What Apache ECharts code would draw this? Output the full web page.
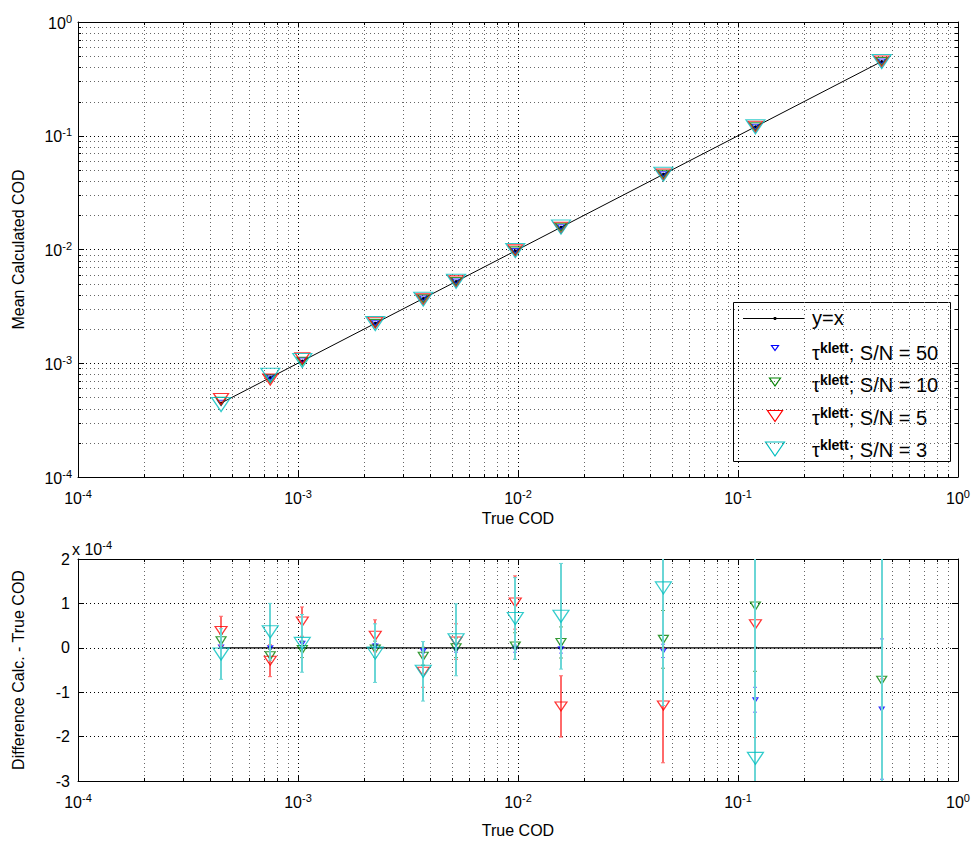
<!DOCTYPE html>
<html><head><meta charset="utf-8">
<script src="https://cdn.jsdelivr.net/npm/echarts@6/dist/echarts.min.js"></script>
<style>html,body{margin:0;padding:0;background:#fff}#c{width:974px;height:844px}</style>
</head><body><div id="c"></div>
<script>
// ---------------- data ----------------
const trueCOD = [4.47e-4, 7.48e-4, 1.046e-3, 2.245e-3, 3.71e-3, 5.23e-3, 9.72e-3, 1.568e-2, 4.58e-2, 0.120, 0.450];
const seriesLabels = ['S/N = 50', 'S/N = 10', 'S/N = 5', 'S/N = 3'];
// difference (calculated - true), in units of 1e-4
const diffSN50 = [0.02, 0.00, 0.10, 0.04, -0.07, -0.05, -0.02, -0.02, -0.07, -1.17, -1.38];
const errSN50  = [0.03, 0.03, 0.05, 0.05, 0.05, 0.05, 0.08, 0.10, 0.15, 0.28, 1.58];
const diffSN10 = [0.16, -0.18, -0.04, -0.03, -0.19, 0.00, 0.04, 0.12, 0.19, 0.94, -0.73];
const errSN10  = [0.15, 0.15, 0.18, 0.18, 0.20, 0.22, 0.30, 0.35, 0.65, 1.47, 2.80];
const diffSN5  = [0.38, -0.29, 0.59, 0.27, -0.54, 0.14, 1.02, -1.32, -1.30, 0.53, 2.80];
const errSN5   = [0.33, 0.36, 0.33, 0.36, 0.35, 0.40, 0.60, 0.69, 1.29, 2.55, 3.50];
const diffSN3  = [-0.14, 0.36, 0.10, -0.12, -0.53, 0.18, 0.66, 0.71, 1.35, -2.49, -3.60];
const errSN3   = [0.57, 0.64, 0.65, 0.66, 0.67, 0.81, 0.92, 1.19, 2.65, 5.00, 6.50];
const diffUnit = 1e-4;
const logMin = 1e-4, logMax = 1;
const diffTicks = [-3, -2, -1, 0, 1, 2];
const diffExponent = -4;

// ---------------- styling ----------------
const FONT = 'Liberation Sans, Arial, Helvetica, sans-serif';
const colors = ['#0000ff', '#008000', '#ff0000', '#00bfbf'];
const barColors = ['#6a6aff', '#5aa55a', '#ff6a6a', '#6ad6d6'];
const topSizes = [[7, 5], [11, 8], [15, 11], [19, 14]];
const botSizes = [[5, 4], [10, 8], [12, 9], [16, 12]];
const TRI = 'path://M0,0L8,0L4,6Z';
const diffs = [diffSN50, diffSN10, diffSN5, diffSN3];
const errs = [errSN50, errSN10, errSN5, errSN3];

const minorVals = [];
for (let d = -4; d < 0; d++) for (let m = 2; m <= 9; m++) minorVals.push(+(m * Math.pow(10, d)).toPrecision(3));

const rich = {
  b: {fontSize: 16, fontFamily: FONT, color: '#000', lineHeight: 18, verticalAlign: 'bottom'},
  s: {fontSize: 11, fontFamily: FONT, color: '#000', lineHeight: 4, verticalAlign: 'top'}
};
function powLabel(v) { return '{b|10}{s|' + Math.round(Math.log10(v)) + '}'; }

const majorSplit = {show: true, lineStyle: {color: '#000', type: [1, 3], width: 1}};
function logAxis(grid, pos, labels, isX) {
  return {
    type: 'log', logBase: 10, gridIndex: grid, position: pos, min: logMin, max: logMax,
    axisLine: {show: true, onZero: false, lineStyle: {color: '#000', width: 1}},
    axisTick: {show: true, inside: true, length: 6, lineStyle: {color: '#000'}},
    axisLabel: labels ? {show: true, formatter: powLabel, rich: rich, margin: isX ? 11 : 6} : {show: false},
    splitLine: labels ? majorSplit : {show: false},
    minorTick: {show: false}, minorSplitLine: {show: false}
  };
}
function diffAxis(pos, labels) {
  return {
    type: 'value', gridIndex: 1, position: pos, min: -3, max: 2, interval: 1,
    axisLine: {show: true, onZero: false, lineStyle: {color: '#000'}},
    axisTick: {show: true, inside: true, length: 6, lineStyle: {color: '#000'}},
    axisLabel: labels ? {show: true, fontSize: 16, fontFamily: FONT, color: '#000', margin: 8,
      formatter: v => diffTicks.includes(v) ? String(v) : ''} : {show: false},
    splitLine: labels ? majorSplit : {show: false}
  };
}

// minor grid + minor ticks through the axis scales
function minorSeries(xi, yi, dim) {
  return {
    type: 'custom', xAxisIndex: xi, yAxisIndex: yi, silent: true, z: 1, clip: false,
    data: dim === 0 ? minorVals.map(v => [v, 0]) : minorVals.map(v => [0.01, v]),
    renderItem(params, api) {
      const cs = params.coordSys;
      const p = api.coord([api.value(0), api.value(1)]);
      if (dim === 0) {
        const x = Math.round(p[0]) + 0.5;
        const y0 = cs.y, y1 = cs.y + cs.height;
        return {type: 'group', children: [
          {type: 'line', shape: {x1: x, y1: y0, x2: x, y2: y1}, style: {stroke: '#666', lineWidth: 1, lineDash: [1, 3]}},
          {type: 'line', shape: {x1: x, y1: y1, x2: x, y2: y1 - 3}, style: {stroke: '#000', lineWidth: 1}},
          {type: 'line', shape: {x1: x, y1: y0, x2: x, y2: y0 + 3}, style: {stroke: '#000', lineWidth: 1}}
        ]};
      } else {
        const y = Math.round(p[1]) + 0.5;
        const x0 = cs.x, x1 = cs.x + cs.width;
        return {type: 'group', children: [
          {type: 'line', shape: {x1: x0, y1: y, x2: x1, y2: y}, style: {stroke: '#666', lineWidth: 1, lineDash: [1, 3]}},
          {type: 'line', shape: {x1: x0, y1: y, x2: x0 + 3, y2: y}, style: {stroke: '#000', lineWidth: 1}},
          {type: 'line', shape: {x1: x1, y1: y, x2: x1 - 3, y2: y}, style: {stroke: '#000', lineWidth: 1}}
        ]};
      }
    }
  };
}

const series = [];
series.push(minorSeries(0, 0, 0));
series.push(minorSeries(0, 0, 1));
series.push(minorSeries(2, 2, 0));

// y = x reference lines
series.push({
  type: 'line', name: 'y=x', xAxisIndex: 0, yAxisIndex: 0, z: 3,
  data: trueCOD.map(x => [x, x]), symbol: 'circle', symbolSize: 3,
  lineStyle: {color: '#000', width: 1}, itemStyle: {color: '#000'}, animation: false
});
series.push({
  type: 'line', xAxisIndex: 2, yAxisIndex: 2, z: 3,
  data: trueCOD.map(x => [x, 0]), symbol: 'circle', symbolSize: 3,
  lineStyle: {color: '#000', width: 1.2}, itemStyle: {color: '#000'}, animation: false
});

for (let k = 0; k < 4; k++) {
  const col = colors[k];
  const bcol = barColors[k];
  // top: mean calculated COD
  series.push({
    type: 'scatter', name: seriesLabels[k], xAxisIndex: 0, yAxisIndex: 0, z: 4 + k, clip: true,
    data: trueCOD.map((x, i) => [x, x + diffs[k][i] * diffUnit]),
    symbol: TRI, symbolSize: topSizes[k], symbolKeepAspect: false,
    itemStyle: {color: 'rgba(0,0,0,0)', borderColor: col, borderWidth: 1.2}, animation: false
  });
  // bottom: error bars
  series.push({
    type: 'custom', xAxisIndex: 2, yAxisIndex: 2, z: 4 + k, clip: true,
    data: trueCOD.map((x, i) => [x, diffs[k][i], errs[k][i]]),
    encode: {x: 0, y: 1},
    renderItem(params, api) {
      const x = api.value(0), d = api.value(1), e = api.value(2);
      const t = api.coord([x, d + e]), b = api.coord([x, d - e]);
      const px = Math.round(t[0]);
      const st = {stroke: bcol, lineWidth: 2};
      return {type: 'group', children: [
        {type: 'line', shape: {x1: px, y1: t[1], x2: px, y2: b[1]}, style: st},
        {type: 'line', shape: {x1: px - 2, y1: t[1], x2: px + 2, y2: t[1]}, style: {stroke: bcol, lineWidth: 1}},
        {type: 'line', shape: {x1: px - 2, y1: b[1], x2: px + 2, y2: b[1]}, style: {stroke: bcol, lineWidth: 1}}
      ]};
    }, animation: false
  });
  // bottom: markers
  series.push({
    type: 'scatter', xAxisIndex: 2, yAxisIndex: 2, z: 4 + k, clip: true,
    data: trueCOD.map((x, i) => [x, diffs[k][i]]),
    symbol: TRI, symbolSize: botSizes[k], symbolKeepAspect: false,
    itemStyle: {color: 'rgba(0,0,0,0)', borderColor: col, borderWidth: 1.2}, animation: false
  });
}

// legend drawn as a boxed panel
const LX = 733, LY = 302, LW = 217, LH = 159;
const textY = [318, 352, 384, 417, 449];
const iconY = [318, 348, 382, 416, 449];
const legendChildren = [
  {type: 'rect', shape: {x: LX + 0.5, y: LY + 0.5, width: LW, height: LH}, style: {fill: '#fff', stroke: '#000', lineWidth: 1}},
  {type: 'line', shape: {x1: 743, y1: iconY[0] + 0.5, x2: 805, y2: iconY[0] + 0.5}, style: {stroke: '#000', lineWidth: 1}},
  {type: 'circle', shape: {cx: 775, cy: iconY[0] + 0.5, r: 1.6}, style: {fill: '#000'}},
  {type: 'text', x: 812, y: textY[0], style: {text: 'y=x', font: '20px ' + FONT, fill: '#000', verticalAlign: 'middle'}}
];
const legRich = {
  t: {fontSize: 20, fontFamily: FONT, color: '#000', lineHeight: 22, verticalAlign: 'bottom'},
  s: {fontSize: 14, fontFamily: FONT, fontWeight: 'bold', color: '#000', lineHeight: 4, verticalAlign: 'top'}
};
for (let k = 0; k < 4; k++) {
  const [w, h] = topSizes[k];
  const cy = iconY[k + 1];
  legendChildren.push({type: 'polygon', shape: {points: [[775 - w / 2, cy - h / 2], [775 + w / 2, cy - h / 2], [775, cy + h / 2]]},
    style: {fill: 'none', stroke: colors[k], lineWidth: 1.2}});
  legendChildren.push({type: 'text', x: 812, y: textY[k + 1], style: {text: '{t|τ}{s|klett}{t|; ' + seriesLabels[k] + '}', rich: legRich, verticalAlign: 'middle'}});
}

const option = {
  backgroundColor: '#fff',
  animation: false,
  grid: [
    {left: 78, top: 22, width: 880, height: 455, containLabel: false},
    {left: 78, top: 559, width: 880, height: 222, containLabel: false}
  ],
  xAxis: [
    Object.assign(logAxis(0, 'bottom', true, true), {name: 'True COD', nameLocation: 'middle', nameGap: 25,
      nameTextStyle: {fontSize: 16, fontFamily: FONT, color: '#000'}}),
    logAxis(0, 'top', false, true),
    Object.assign(logAxis(1, 'bottom', true, true), {name: 'True COD', nameLocation: 'middle', nameGap: 41,
      nameTextStyle: {fontSize: 16, fontFamily: FONT, color: '#000'}}),
    logAxis(1, 'top', false, true)
  ],
  yAxis: [
    Object.assign(logAxis(0, 'left', true, false), {name: 'Mean Calculated COD', nameLocation: 'middle', nameGap: 52,
      nameTextStyle: {fontSize: 16, fontFamily: FONT, color: '#000'}}),
    logAxis(0, 'right', false, false),
    Object.assign(diffAxis('left', true), {name: 'Difference Calc. - True COD', nameLocation: 'middle', nameGap: 52,
      nameTextStyle: {fontSize: 16, fontFamily: FONT, color: '#000'}}),
    diffAxis('right', false)
  ],
  graphic: [
    {type: 'group', z: 100, children: legendChildren},
    {type: 'text', x: 72, y: 548, z: 100, style: {text: '{b|x 10}{s|' + diffExponent + '}', rich: rich, verticalAlign: 'middle'}}
  ],
  series: series
};

const chart = echarts.init(document.getElementById('c'), null, {renderer: 'svg'});
chart.setOption(option);
</script>
</body></html>
